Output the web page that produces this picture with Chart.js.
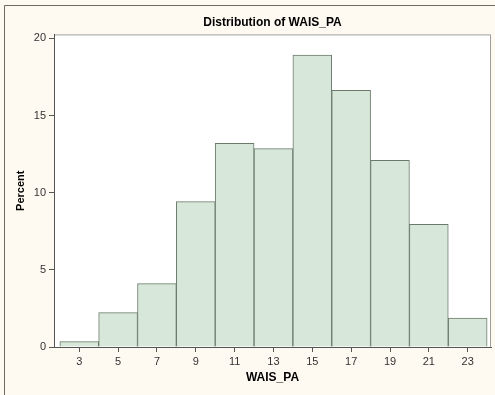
<!DOCTYPE html>
<html lang="en">
<head>
  <meta charset="UTF-8">
  <title>Distribution of WAIS_PA</title>
  <script src="https://cdn.jsdelivr.net/npm/chart.js"></script>
  <style>
    body {
      margin: 0;
      background: #fefaf2;
    }
    #histo {
      display: block;
    }
  </style>
</head>
<body>
  <canvas id="histo" width="495" height="395"></canvas>

  <script>
    // bin midpoints (bin width 2) and percent per bin
    const binMids = [3, 5, 7, 9, 11, 13, 15, 17, 19, 21, 23];
    const percents = [0.35, 2.23, 4.11, 9.42, 13.2, 12.86, 18.92, 16.64, 12.1, 7.95, 1.88];
    const xTicks = [3, 5, 7, 9, 11, 13, 15, 17, 19, 21, 23];
    const yTicks = [0, 5, 10, 15, 20];

    const points = binMids.map((x, i) => ({ x: x, y: percents[i] }));

    // cream page, outer frame, white plot box
    const frame = {
      id: 'frame',
      beforeDraw(chart) {
        const c = chart.ctx;
        const a = chart.chartArea;
        c.save();
        c.fillStyle = '#fefaf2';
        c.fillRect(0, 0, chart.width, chart.height);
        c.strokeStyle = '#6e6a60';
        c.lineWidth = 1;
        c.beginPath();
        c.moveTo(4.5, chart.height);
        c.lineTo(4.5, 5.5);
        c.lineTo(chart.width, 5.5);
        c.stroke();
        c.fillStyle = '#ffffff';
        c.fillRect(a.left, a.top, a.right - a.left, a.bottom - a.top);
        c.strokeStyle = '#a0a0a0';
        c.strokeRect(a.left + 0.5, a.top + 0.5, a.right - a.left - 1, a.bottom - a.top);
        c.restore();
      }
    };

    const ctx = document.getElementById('histo').getContext('2d');
    new Chart(ctx, {
      type: 'bar',
      data: {
        datasets: [{
          data: points,
          backgroundColor: '#d7e7d9',
          borderColor: '#6b7b6b',
          borderWidth: 1,
          barPercentage: 1,
          categoryPercentage: 1
        }]
      },
      options: {
        responsive: false,
        animation: false,
        layout: { padding: { left: 0, right: 4, top: 0, bottom: 0 } },
        plugins: {
          legend: { display: false },
          tooltip: { enabled: false },
          title: {
            display: true,
            text: 'Distribution of WAIS_PA',
            fullSize: false,
            color: '#000',
            font: { family: 'Arial, "Liberation Sans", sans-serif', size: 12, weight: 'bold' },
            padding: { top: 15, bottom: 5 }
          }
        },
        scales: {
          x: {
            type: 'linear',
            offset: false,
            min: 1.7,
            max: 24.2,
            afterBuildTicks: s => { s.ticks = xTicks.map(v => ({ value: v })); },
            afterFit: s => { s.height = 48; },
            grid: { offset: false, drawOnChartArea: false, tickLength: 5, color: '#555' },
            border: { display: true, color: '#555' },
            ticks: {
              color: '#333',
              padding: 3,
              maxRotation: 0,
              autoSkip: false,
              font: { family: 'Arial, "Liberation Sans", sans-serif', size: 11 }
            },
            title: {
              display: true,
              text: 'WAIS_PA',
              color: '#000',
              font: { family: 'Arial, "Liberation Sans", sans-serif', size: 12, weight: 'bold' },
              padding: { top: 0, bottom: 10 }
            }
          },
          y: {
            min: 0,
            max: 20.26,
            afterBuildTicks: s => { s.ticks = yTicks.map(v => ({ value: v })); },
            afterFit: s => { s.width = 54; },
            grid: { drawOnChartArea: false, tickLength: 5, color: '#555' },
            border: { display: true, color: '#555' },
            ticks: {
              color: '#333',
              padding: 3,
              font: { family: 'Arial, "Liberation Sans", sans-serif', size: 11 }
            },
            title: {
              display: true,
              text: 'Percent',
              color: '#000',
              font: { family: 'Arial, "Liberation Sans", sans-serif', size: 11, weight: 'bold' },
              padding: { top: 14, bottom: 0 }
            }
          }
        }
      },
      plugins: [frame]
    });
  </script>
</body>
</html>
